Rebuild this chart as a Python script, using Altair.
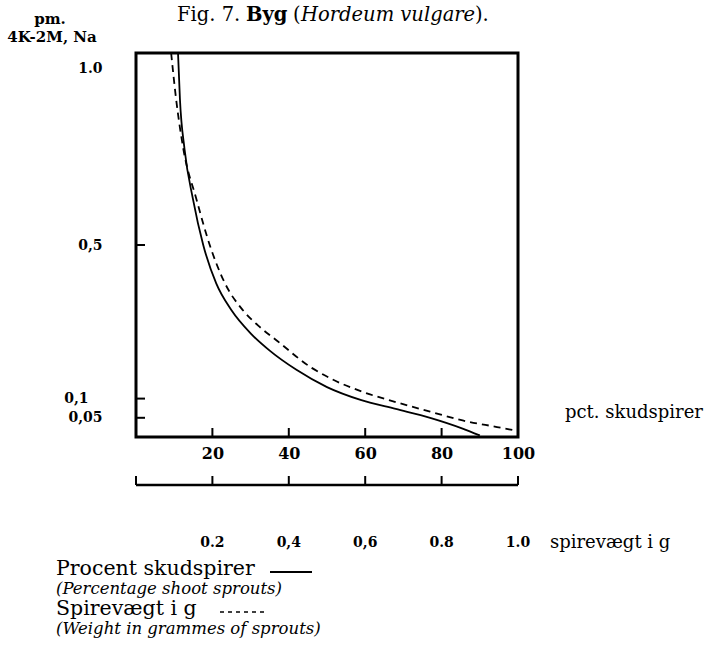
import altair as alt
import pandas as pd

FONT = "DejaVu Serif"

# Curves: pm. 4K-2M, Na against percent shoot sprouts / sprout weight
solid_pct = [11.0, 11.5, 12.7, 14.9, 17.6, 21.0, 25.0, 30.0, 35.0, 42.0, 50.0, 59.0, 68.0, 77.0, 85.5, 90.0]
solid_val = [1.00, 0.88, 0.75, 0.62, 0.50, 0.40, 0.33, 0.27, 0.225, 0.175, 0.130, 0.096, 0.073, 0.050, 0.022, 0.004]
dash_pct = [9.2, 10.5, 12.4, 15.8, 19.3, 23.3, 28.0, 32.0, 37.0, 46.0, 51.0, 59.5, 68.0, 77.0, 85.5, 94.5, 98.7]
dash_val = [1.00, 0.88, 0.75, 0.62, 0.50, 0.40, 0.33, 0.29, 0.25, 0.180, 0.152, 0.117, 0.091, 0.066, 0.043, 0.026, 0.018]

# Axes
x_ticks = [20, 40, 60, 80, 100]
x_inner_ticks = [20, 40, 60, 80]
y_ticks = [0.05, 0.1, 0.5, 1.0]
y_labels = ["0,05", "0,1", "0,5", "1.0"]
y_inner_ticks = [0.05, 0.1, 0.5]
weight_ticks = [0.0, 0.2, 0.4, 0.6, 0.8, 1.0]
weight_label_values = [0.2, 0.4, 0.6, 0.8, 1.0]
weight_labels = ["0.2", "0,4", "0,6", "0.8", "1.0"]

W, H = 382, 384
PAD_L, PAD_T = 136, 53

y_label_expr = " : ".join(
    f"datum.value == {v} ? '{t}'" for v, t in zip(y_ticks, y_labels)
) + " : ''"

xs = alt.Scale(domain=[0, 100], nice=False, zero=True)
ys = alt.Scale(domain=[0, 1.0], nice=False, zero=True)

x_axis = alt.Axis(
    values=x_ticks, title=None, grid=False, domain=False, ticks=False, tickSize=0,
    labelFont=FONT, labelFontSize=16, labelFontWeight="bold", labelColor="black",
    labelPadding=8, labelFlush=False,
)
y_axis = alt.Axis(
    values=y_ticks, title=None, grid=False, domain=False, ticks=False, tickSize=0,
    labelExpr=y_label_expr, labelFont=FONT, labelFontSize=14, labelFontWeight="bold",
    labelColor="black", labelBaseline="middle",
    labelPadding={"condition": {"test": "datum.value == 0.1", "value": 48}, "value": 34},
    labelOffset={"condition": {"test": "datum.value == 1", "value": 15}, "value": 0},
    labelFlush=False,
)

X = lambda f: alt.X(f, type="quantitative", scale=xs, axis=x_axis)
Y = lambda f: alt.Y(f, type="quantitative", scale=ys, axis=y_axis)

curves = pd.concat([
    pd.DataFrame({"pct": solid_pct, "val": solid_val, "serie": "Procent skudspirer"}),
    pd.DataFrame({"pct": dash_pct, "val": dash_val, "serie": "Spirevægt i g"}),
])

solid = alt.Chart(curves).transform_filter(
    alt.datum.serie == "Procent skudspirer"
).mark_line(color="black", strokeWidth=1.8, interpolate="monotone").encode(
    x=X("pct"), y=Y("val")
)
dashed = alt.Chart(curves).transform_filter(
    alt.datum.serie == "Spirevægt i g"
).mark_line(color="black", strokeWidth=1.8, strokeDash=[7, 5], interpolate="monotone").encode(
    x=X("pct"), y=Y("val")
)

# inward ticks on the frame
y_tick_marks = alt.Chart(pd.DataFrame({"val": y_inner_ticks})).mark_rule(
    color="black", strokeWidth=2
).encode(y=Y("val"), x=alt.value(0), x2=alt.value(9))
x_tick_marks = alt.Chart(pd.DataFrame({"pct": x_inner_ticks})).mark_rule(
    color="black", strokeWidth=2
).encode(x=X("pct"), y=alt.value(H), y2=alt.value(H - 9))

# secondary scale: sprout weight in grammes (1.0 g == 100 %)
AX2_Y = 485 - PAD_T
weight_df = pd.DataFrame({"w": weight_ticks})
weight_line = alt.Chart(pd.DataFrame({"a": [0.0], "b": [100.0]})).mark_rule(
    color="black", strokeWidth=2.5
).encode(x=X("a"), x2="b", y=alt.value(AX2_Y))
weight_tick_marks = alt.Chart(weight_df).transform_calculate(
    pct="datum.w * 100"
).mark_rule(color="black", strokeWidth=2).encode(
    x=X("pct"), y=alt.value(AX2_Y - 9), y2=alt.value(AX2_Y)
)
weight_text = alt.Chart(pd.DataFrame({"w": weight_label_values, "lab": weight_labels})).transform_calculate(
    pct="datum.w * 100"
).mark_text(font=FONT, fontSize=14, fontWeight="bold", color="black", baseline="middle").encode(
    x=X("pct"), y=alt.value(543 - PAD_T), text="lab:N"
)


def label(text, x, y, size=18, weight="normal", style="normal", align="left", baseline="alphabetic"):
    return alt.Chart(pd.DataFrame({"t": [text]})).mark_text(
        font=FONT, fontSize=size, fontWeight=weight, fontStyle=style, color="black",
        align=align, baseline=baseline,
    ).encode(x=alt.value(x - PAD_L), y=alt.value(y - PAD_T), text="t:N")


texts = [
    # heading
    label("Fig. 7.", 177, 21, size=19.5),
    label("Byg", 246, 21, size=19.5, weight="bold"),
    label("(", 293, 21, size=19.5),
    label("Hordeum vulgare", 301, 21, size=19.5, style="italic"),
    label(").", 475, 21, size=19.5),
    # y-axis caption
    label("pm.", 50, 24, size=15, weight="bold", align="center"),
    label("4K-2M, Na", 52, 42, size=15, weight="bold", align="center"),
    # axis captions
    label("pct. skudspirer", 565, 413, size=18, baseline="middle"),
    label("spirevægt i g", 550, 543, size=18, baseline="middle"),
    # key
    label("Procent skudspirer", 56, 569, size=20.5, baseline="middle"),
    label("(Percentage shoot sprouts)", 56, 589, size=16.5, style="italic", baseline="middle"),
    label("Spirevægt i g", 56, 609, size=20.5, baseline="middle"),
    label("(Weight in grammes of sprouts)", 56, 629, size=16.5, style="italic", baseline="middle"),
]

key_solid = alt.Chart(pd.DataFrame({"k": [0]})).mark_rule(color="black", strokeWidth=1.8).encode(
    x=alt.value(270 - PAD_L), x2=alt.value(312 - PAD_L), y=alt.value(572 - PAD_T)
)
key_dash = alt.Chart(pd.DataFrame({"k": [0]})).mark_rule(
    color="black", strokeWidth=1.5, strokeDash=[4, 4]
).encode(x=alt.value(220 - PAD_L), x2=alt.value(264 - PAD_L), y=alt.value(612 - PAD_T))

chart = alt.layer(
    solid, dashed, y_tick_marks, x_tick_marks,
    weight_line, weight_tick_marks, weight_text,
    key_solid, key_dash, *texts,
).properties(
    width=W, height=H,
    autosize=alt.AutoSizeParams(type="none"),
    padding={"left": PAD_L, "top": PAD_T, "right": 706 - PAD_L - W, "bottom": 655 - PAD_T - H},
    background="white",
).configure_view(stroke="black", strokeWidth=3)

chart.save("out.html", embed_options={"renderer": "svg", "actions": False})
